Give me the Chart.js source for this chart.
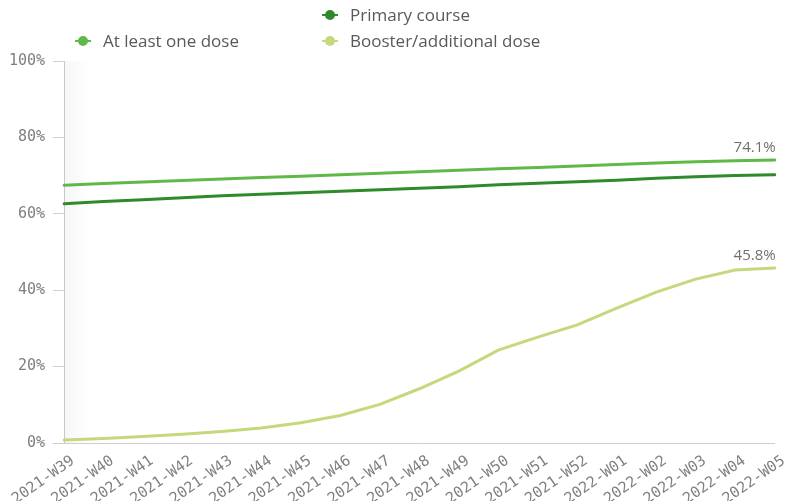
<!DOCTYPE html>
<html>
<head>
<meta charset="utf-8">
<script src="https://cdn.jsdelivr.net/npm/chart.js@4/dist/chart.umd.min.js"></script>
<style>
  body { margin: 0; background: #fff; }
  #wrap { position: relative; width: 786px; height: 501px; }
  #legend { position: absolute; left: 0; top: 0; width: 786px; height: 56px; font-family: "Open Sans", sans-serif; font-size: 17px; color: #595959; }
  .item { position: absolute; display: flex; align-items: center; white-space: nowrap; }
  .mark { position: relative; width: 16px; height: 10px; margin-right: 12px; }
  .mark .ln { position: absolute; left: 0; top: 4px; width: 16px; height: 2px; }
  .mark .dt { position: absolute; left: 3px; top: 0; width: 10px; height: 10px; border-radius: 50%; }
</style>
</head>
<body>
<div id="wrap">
  <canvas id="chart" width="786" height="501"></canvas>
  <div id="legend"></div>
</div>
<script>
const weeks = ["2021-W39", "2021-W40", "2021-W41", "2021-W42", "2021-W43", "2021-W44", "2021-W45",
  "2021-W46", "2021-W47", "2021-W48", "2021-W49", "2021-W50", "2021-W51", "2021-W52",
  "2022-W01", "2022-W02", "2022-W03", "2022-W04", "2022-W05"];

// uptake in % of population
const atLeastOne = [67.5, 67.9, 68.3, 68.7, 69.1, 69.5, 69.8, 70.2, 70.6, 71.0, 71.4, 71.8, 72.1, 72.5, 72.9, 73.3, 73.6, 73.9, 74.1];
const primary = [62.6, 63.2, 63.7, 64.2, 64.7, 65.1, 65.5, 65.9, 66.3, 66.7, 67.1, 67.6, 68.0, 68.4, 68.8, 69.3, 69.7, 70.0, 70.2];
const booster = [0.8, 1.2, 1.7, 2.3, 3.0, 3.9, 5.3, 7.2, 10.1, 14.2, 18.8, 24.3, 27.7, 30.9, 35.3, 39.5, 42.9, 45.3, 45.8];

const yTicks = [0, 20, 40, 60, 80, 100];

const greenLight = '#5fb947';
const greenDark = '#2f8a2c';
const greenPale = '#c3d97c';
const tickGrey = '#7f7f7f';
const axisGrey = '#cfcfcf';

// label only the last value of these series
const endLabel = {
  id: 'endLabel',
  afterDatasetsDraw(chart) {
    const ctx = chart.ctx;
    ctx.save();
    ctx.font = '15px "Open Sans", sans-serif';
    ctx.fillStyle = '#707070';
    ctx.textAlign = 'right';
    ctx.textBaseline = 'bottom';
    chart.data.datasets.forEach((ds, i) => {
      if (!ds.showEnd) return;
      const pts = chart.getDatasetMeta(i).data;
      const p = pts[pts.length - 1];
      ctx.fillText(ds.data[ds.data.length - 1].toFixed(1) + '%', p.x + 1, p.y - 5);
    });
    ctx.restore();
  }
};

// faint shade along the y axis
const areaShade = {
  id: 'areaShade',
  beforeDatasetsDraw(chart) {
    const { ctx, chartArea: a } = chart;
    const g = ctx.createLinearGradient(a.left, 0, a.left + 26, 0);
    g.addColorStop(0, 'rgba(0,0,0,0.035)');
    g.addColorStop(1, 'rgba(0,0,0,0)');
    ctx.save();
    ctx.fillStyle = g;
    ctx.fillRect(a.left, a.top, 26, a.bottom - a.top);
    ctx.restore();
  }
};

const chart = new Chart(document.getElementById('chart'), {
  type: 'line',
  data: {
    labels: weeks,
    datasets: [
      { label: 'At least one dose', data: atLeastOne, borderColor: greenLight, backgroundColor: greenLight, showEnd: true },
      { label: 'Primary course', data: primary, borderColor: greenDark, backgroundColor: greenDark, showEnd: false },
      { label: 'Booster/additional dose', data: booster, borderColor: greenPale, backgroundColor: greenPale, showEnd: true }
    ]
  },
  options: {
    responsive: false,
    animation: false,
    layout: { padding: { top: 61, right: 9, left: 0, bottom: 0 } },
    elements: {
      line: { borderWidth: 3, tension: 0, borderCapStyle: 'round' },
      point: { radius: 0, hoverRadius: 0 }
    },
    plugins: { legend: { display: false }, tooltip: { enabled: false } },
    scales: {
      x: {
        offset: false,
        grid: { display: false },
        border: { color: axisGrey, width: 1 },
        ticks: {
          color: tickGrey, font: { family: '"DejaVu Sans Mono", monospace', size: 15 },
          autoSkip: false, minRotation: 35, maxRotation: 35, padding: 1, labelOffset: 9
        },
        afterFit: s => { s.height = 58; }
      },
      y: {
        min: 0, max: 100,
        afterBuildTicks: s => { s.ticks = yTicks.map(v => ({ value: v })); },
        grid: { drawOnChartArea: false, color: axisGrey, tickLength: 11 },
        border: { color: axisGrey, width: 1 },
        ticks: {
          color: tickGrey, font: { family: '"DejaVu Sans Mono", monospace', size: 15 },
          padding: 8, callback: v => v + '%'
        },
        afterFit: s => { s.width = 64; }
      }
    }
  },
  plugins: [areaShade, endLabel]
});

// legend laid out in two columns like the source
const slots = {
  'Primary course': { left: 322, top: 3 },
  'At least one dose': { left: 75, top: 29 },
  'Booster/additional dose': { left: 322, top: 29 }
};
const legend = document.getElementById('legend');
chart.data.datasets.forEach(ds => {
  const el = document.createElement('div');
  el.className = 'item';
  el.style.left = slots[ds.label].left + 'px';
  el.style.top = slots[ds.label].top + 'px';
  el.innerHTML = '<span class="mark"><span class="ln" style="background:' + ds.borderColor + '"></span>' +
    '<span class="dt" style="background:' + ds.borderColor + '"></span></span><span>' + ds.label + '</span>';
  legend.appendChild(el);
});
</script>
</body>
</html>
